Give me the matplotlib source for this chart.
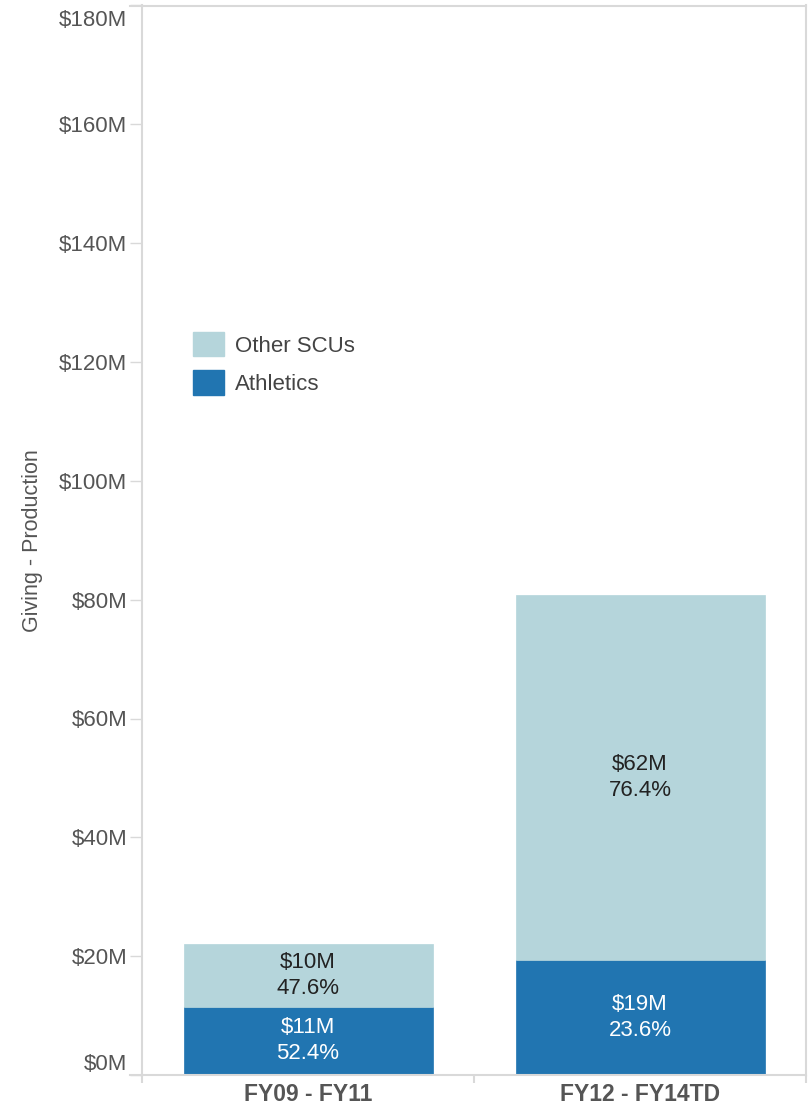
import matplotlib
matplotlib.use("Agg")
import matplotlib.pyplot as plt
from matplotlib.patches import Patch
from matplotlib.lines import Line2D
import matplotlib.transforms as mtransforms

plt.rcParams['font.family'] = ['Liberation Sans', 'DejaVu Sans']

categories = ["FY09 - FY11", "FY12 - FY14TD"]
athletics = [11.5, 19.4]
other_scus = [10.5, 61.4]
athletics_labels = ["$11M\n52.4%", "$19M\n23.6%"]
other_labels = ["$10M\n47.6%", "$62M\n76.4%"]
yticks = [0, 20, 40, 60, 80, 100, 120, 140, 160, 180]
ytick_labels = ["$%dM" % v for v in yticks]

c_dark = "#2175b1"
c_light = "#b5d5db"
grid_c = "#d9d9d9"

W, H = 808, 1111
fig = plt.figure(figsize=(W / 100, H / 100), dpi=100)
L, R, T, B = 142, 806, 5.5, 1075
ax = fig.add_axes([L / W, 1 - B / H, (R - L) / W, (B - T) / H])

x = list(range(len(categories)))
ax.bar(x, athletics, width=0.75, color=c_dark, edgecolor=c_dark, linewidth=0.5, zorder=2)
ax.bar(x, other_scus, width=0.75, bottom=athletics, color=c_light, edgecolor=c_light,
       linewidth=0.5, zorder=2)

for i in x:
    ax.text(i, athletics[i] / 2, athletics_labels[i], ha='center', va='center',
            fontsize=16, color='white', linespacing=1.32, zorder=3)
    ax.text(i, athletics[i] + other_scus[i] / 2, other_labels[i], ha='center', va='center',
            fontsize=16, color='#222222', linespacing=1.32, zorder=3)

ax.set_xlim(-0.5, 1.5)
ax.set_ylim(0, 180)

ax.set_yticks(yticks)
ax.set_yticklabels(ytick_labels, fontsize=16, color='#555555')
ax.tick_params(axis='y', length=8.6, width=1, color=grid_c, pad=2)

# shift end labels inward like the reference
lbls = ax.get_yticklabels()
lbls[0].set_transform(lbls[0].get_transform() + mtransforms.ScaledTranslation(0, 13 / 100, fig.dpi_scale_trans))
lbls[-1].set_transform(lbls[-1].get_transform() + mtransforms.ScaledTranslation(0, -12.5 / 100, fig.dpi_scale_trans))

ax.set_xticks(x)
ax.set_xticklabels(categories, fontsize=16.5, fontweight='bold', color='#555555')
ax.tick_params(axis='x', which='major', length=0, pad=6)
ax.set_xticks([-0.5, 0.5, 1.5], minor=True)
ax.tick_params(axis='x', which='minor', length=6, width=1.5, color=grid_c)

ax.set_ylabel("Giving - Production", fontsize=15.5, color='#555555')
ax.yaxis.set_label_coords(-(L - 43) / (R - L), 0.5)

for s in ['left', 'bottom', 'top', 'right']:
    ax.spines[s].set_color(grid_c)
    ax.spines[s].set_linewidth(1.5)

# top and bottom lines extending to the left of the axes
fig.add_artist(Line2D([130 / W, L / W], [1 - T / H, 1 - T / H], color=grid_c, lw=1.5))
fig.add_artist(Line2D([130 / W, L / W], [1 - B / H, 1 - B / H], color=grid_c, lw=1.5))

handles = [Patch(facecolor=c_light, edgecolor=c_light), Patch(facecolor=c_dark, edgecolor=c_dark)]
leg = fig.legend(handles, ["Other SCUs", "Athletics"], loc='upper left',
                 bbox_to_anchor=(193 / W, 1 - 332 / H), frameon=False, fontsize=16,
                 handlelength=1.4, handleheight=1.3, handletextpad=0.5,
                 labelspacing=0.62, borderpad=0, borderaxespad=0)
for t in leg.get_texts():
    t.set_color('#444444')

fig.savefig("out.png", dpi=100)
